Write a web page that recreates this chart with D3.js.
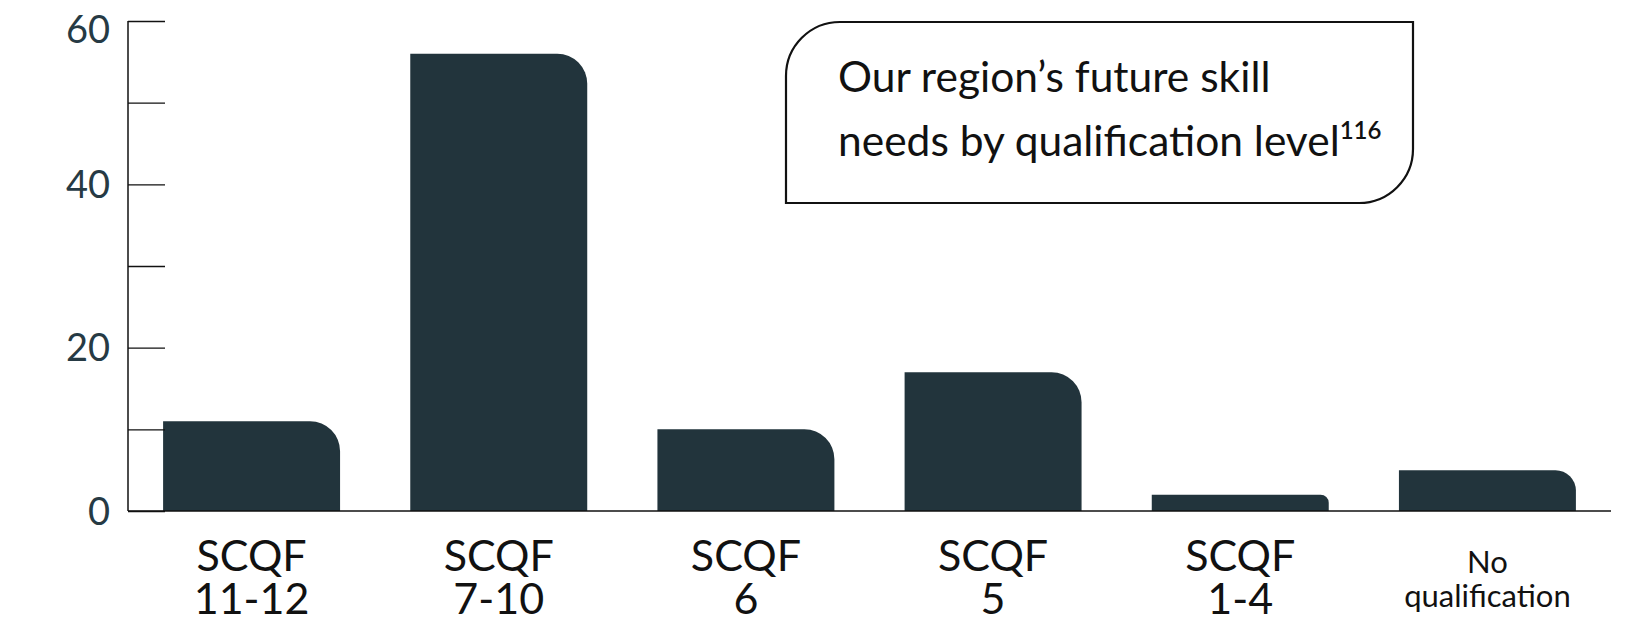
<!DOCTYPE html>
<html>
<head>
<meta charset="utf-8">
<script src="https://cdn.jsdelivr.net/npm/d3@7"></script>
<style>
  html, body { margin: 0; padding: 0; background: #ffffff; }
  svg { display: block; font-family: Lato, "Noto Sans", sans-serif; }
</style>
</head>
<body>
<svg id="chart" width="1643" height="620"></svg>
<script>
// Qualification levels (each label drawn on two lines)
const categories = ["SCQF 11-12", "SCQF 7-10", "SCQF 6", "SCQF 5", "SCQF 1-4", "No qualification"];
const labelLines = [["SCQF", "11-12"], ["SCQF", "7-10"], ["SCQF", "6"], ["SCQF", "5"], ["SCQF", "1-4"], ["No", "qualification"]];
// Share of future skill needs (%)
const values = [11, 56, 10, 17, 2, 5];
const yTicks = [0, 10, 20, 30, 40, 50, 60];
const yTickLabels = [0, 20, 40, 60];
const titleLines = ["Our region’s future skill", "needs by qualification level"];
const titleNote = "116";

const barColor = "#22343c";
const axisTextColor = "#263a44";

const svg = d3.select("#chart");

const axisX = 128, baseY = 511, topY = 21, rightX = 1611;

const x = d3.scaleBand()
  .domain(categories)
  .range([axisX, rightX])
  .paddingInner(0.284)
  .paddingOuter(0.142);

const y = d3.scaleLinear()
  .domain([0, 60])
  .range([baseY, topY]);

// Bars with a rounded top-right corner
function barPath(d, i) {
  const x0 = x(categories[i]);
  const w = x.bandwidth();
  const y0 = y(d);
  const h = baseY - y0;
  const r = Math.min(30, h / 2);
  return `M${x0},${baseY}` +
         `V${y0}` +
         `H${x0 + w - r}` +
         `A${r},${r} 0 0 1 ${x0 + w},${y0 + r}` +
         `V${baseY}Z`;
}

svg.append("g")
  .selectAll("path")
  .data(values)
  .join("path")
  .attr("d", barPath)
  .attr("fill", barColor);

// Y axis: ticks point inward, labels only on every other tick
const yAxis = d3.axisRight(y)
  .tickValues(yTicks)
  .tickSize(37)
  .tickFormat("");

const gy = svg.append("g")
  .attr("transform", `translate(${axisX},0)`)
  .call(yAxis);
gy.select(".domain").remove();
gy.selectAll(".tick line").attr("stroke", "#111").attr("stroke-width", 1.3);

svg.append("line")
  .attr("x1", axisX).attr("x2", axisX)
  .attr("y1", y(60)).attr("y2", baseY)
  .attr("stroke", "#111").attr("stroke-width", 1.5);

// keep the top label inside the canvas
svg.append("g")
  .selectAll("text")
  .data(yTickLabels)
  .join("text")
  .attr("x", 110)
  .attr("y", d => Math.max(y(d), topY + 8))
  .attr("dy", "0.36em")
  .attr("text-anchor", "end")
  .attr("font-size", 38)
  .attr("fill", axisTextColor)
  .text(d => d);

// X axis baseline
svg.append("line")
  .attr("x1", axisX).attr("x2", rightX)
  .attr("y1", baseY).attr("y2", baseY)
  .attr("stroke", "#111").attr("stroke-width", 1.5);

// Category labels
const xl = svg.append("g")
  .selectAll("text")
  .data(categories)
  .join("text")
  .attr("text-anchor", "middle")
  .attr("fill", "#111");

xl.each(function (c, i) {
  const t = d3.select(this);
  const cx = x(c) + x.bandwidth() / 2;
  const small = labelLines[i][0] === "No";
  const fs = small ? 31 : 43;
  const ys = small ? [573, 607] : [571, 614];
  labelLines[i].forEach((line, k) => {
    t.append("tspan")
      .attr("x", cx)
      .attr("y", ys[k])
      .attr("font-size", fs)
      .text(line);
  });
});

// Title panel with rounded top-left and bottom-right corners
const bx0 = 786, by0 = 22, bx1 = 1413, by1 = 203, rc = 54;
svg.append("path")
  .attr("d",
    `M${bx0},${by1}` +
    `V${by0 + rc}` +
    `A${rc},${rc} 0 0 1 ${bx0 + rc},${by0}` +
    `H${bx1}` +
    `V${by1 - rc}` +
    `A${rc},${rc} 0 0 1 ${bx1 - rc},${by1}` +
    `Z`)
  .attr("fill", "#fff")
  .attr("stroke", "#111")
  .attr("stroke-width", 2.2);

const title = svg.append("text")
  .attr("x", 838)
  .attr("font-size", 42.5)
  .attr("fill", "#111");
title.append("tspan").attr("x", 838).attr("y", 92).text(titleLines[0]);
title.append("tspan").attr("x", 838).attr("y", 156).text(titleLines[1]);
title.append("tspan").attr("font-size", 24).attr("font-weight", 600).attr("dy", -17).text(titleNote);
</script>
</body>
</html>
